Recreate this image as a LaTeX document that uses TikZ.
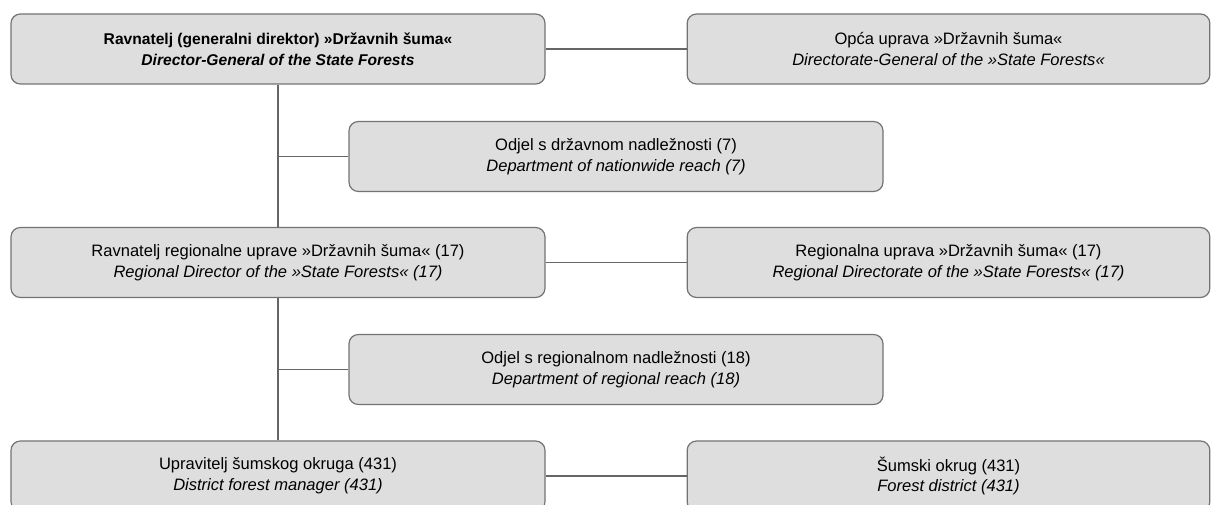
\documentclass[tikz,border=0pt]{standalone}
\usepackage{fontspec}
\setmainfont{Liberation Sans}
\usepackage{tikz}
\usetikzlibrary{calc}
\usetikzlibrary{positioning}

\tikzset{
	unit/.style={draw=black!55, fill=black!13, line width=0.9pt, rounded corners=7pt,
		align=center, inner sep=0pt, minimum height=52.5pt,
		font=\fontsize{12.4}{15.5}\selectfont},
	wide/.style={unit, minimum width=400.5pt},
	side/.style={unit, minimum width=392pt},
	head/.style={wide, font=\fontsize{11.7}{16}\selectfont\bfseries},
	link/.style={draw=black!60, line width=0.8pt}
}

\begin{document}
\begin{tikzpicture}[x=0.75pt,y=-0.75pt]
\useasboundingbox (0,0) rectangle (1211,505);
\clip (0,0) rectangle (1211,505);

% main column
\node [head] (gen) at (278,49) {Ravnatelj (generalni direktor) »Državnih šuma«\\\textit{Director-General of the State Forests}};
\node [wide] (reg) at (278,262.5) {Ravnatelj regionalne uprave »Državnih šuma« (17)\\\textit{Regional Director of the »State Forests« (17)}};
\node [wide] (dis) at (278,476) {Upravitelj šumskog okruga (431)\\\textit{District forest manager (431)}};

% departments
\node [wide] (odjn) at (616,156.5) {Odjel s državnom nadležnosti (7)\\\textit{Department of nationwide reach (7)}};
\node [wide] (odjr) at (616,369.5) {Odjel s regionalnom nadležnosti (18)\\\textit{Department of regional reach (18)}};

% offices
\node [side] (genu) at (948.5,49) {Opća uprava »Državnih šuma«\\\textit{Directorate-General of the »State Forests«}};
\node [side] (regu) at (948.5,262.5) {Regionalna uprava »Državnih šuma« (17)\\\textit{Regional Directorate of the »State Forests« (17)}};
\node [side] (disu) at (948.5,476) {Šumski okrug (431)\\\textit{Forest district (431)}};

\draw [link] (gen) -- (reg);
\draw [link] (reg) -- (dis);

\draw [link] (odjn.west -| gen.south) -- (odjn.west);
\draw [link] (odjr.west -| reg.south) -- (odjr.west);

\draw [link] (gen) -- (genu);
\draw [link] (reg) -- (regu);
\draw [link] (dis) -- (disu);

\end{tikzpicture}
\end{document}
